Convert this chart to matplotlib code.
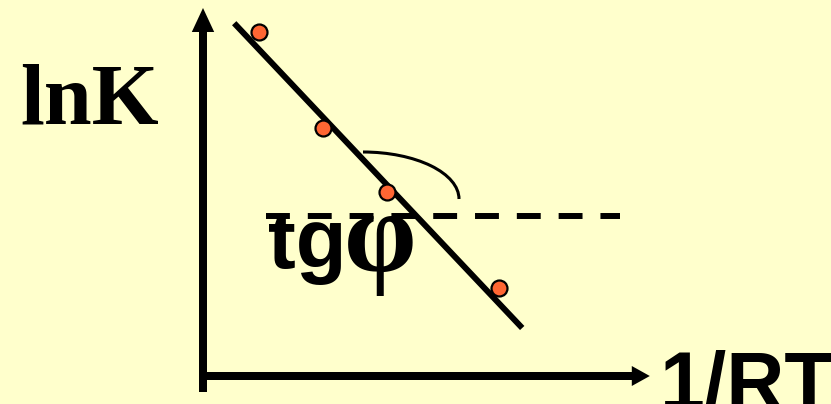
import matplotlib.pyplot as plt
from matplotlib.patches import Arc

# dados (unidades arbitrárias)
inv_rt = [1.4, 3.0, 4.6, 7.4]
ln_k = [8.6, 6.2, 4.6, 2.2]

# reta ajustada
fit_x = [0.78, 7.98]
fit_y = [8.82, 1.2]

# linha horizontal tracejada (referência do ângulo)
ref_x = [1.575, 10.425]
ref_y = [4.0, 4.0]

bg = '#FFFFCC'

fig = plt.figure(figsize=(8.31, 4.04), dpi=100, facecolor=bg)
ax = fig.add_axes([0, 0, 1, 1])
ax.set_facecolor(bg)
ax.set_xlim(-5.075, 15.7)
ax.set_ylim(-0.7, 9.4)
ax.axis('off')

# eixos com setas
ax.arrow(0, -0.4, 0, 9.6, width=0.2, head_width=0.56, head_length=0.6,
         length_includes_head=True, color='black', lw=0)
ax.arrow(-0.1, 0, 11.27, 0, width=0.2, head_width=0.5, head_length=0.45,
         length_includes_head=True, color='black', lw=0)

# reta e pontos
ax.plot(fit_x, fit_y, color='black', lw=4.3, solid_capstyle='butt', zorder=3)
ax.plot(ref_x, ref_y, color='black', lw=4.3, linestyle=(0, (4, 3)), zorder=3)
ax.plot(inv_rt, ln_k, 'o', color='#FF6633', markersize=11.5,
        markeredgecolor='black', markeredgewidth=1.6, zorder=4)

# arco do ângulo
ax.add_patch(Arc((4.0, 4.425), 4.8, 2.35, theta1=0, theta2=90,
                 color='black', lw=2.2, zorder=3))

# textos
ax.text(-4.575, 6.325, 'lnK', fontsize=62, fontweight='bold',
        family='Liberation Serif', ha='left', va='baseline')
ax.text(1.625, 2.7, 'tg', fontsize=60, fontweight='bold',
        family='Liberation Sans', ha='left', va='baseline', zorder=2)
ax.text(3.53, 2.63, 'φ', fontsize=84, fontweight='bold',
        family='Liberation Serif', ha='left', va='baseline', zorder=2)
ax.text(11.425, -0.82, '1/RT', fontsize=58, fontweight='bold',
        family='Liberation Sans', ha='left', va='baseline')

fig.savefig('out.png', dpi=100, facecolor=bg)
